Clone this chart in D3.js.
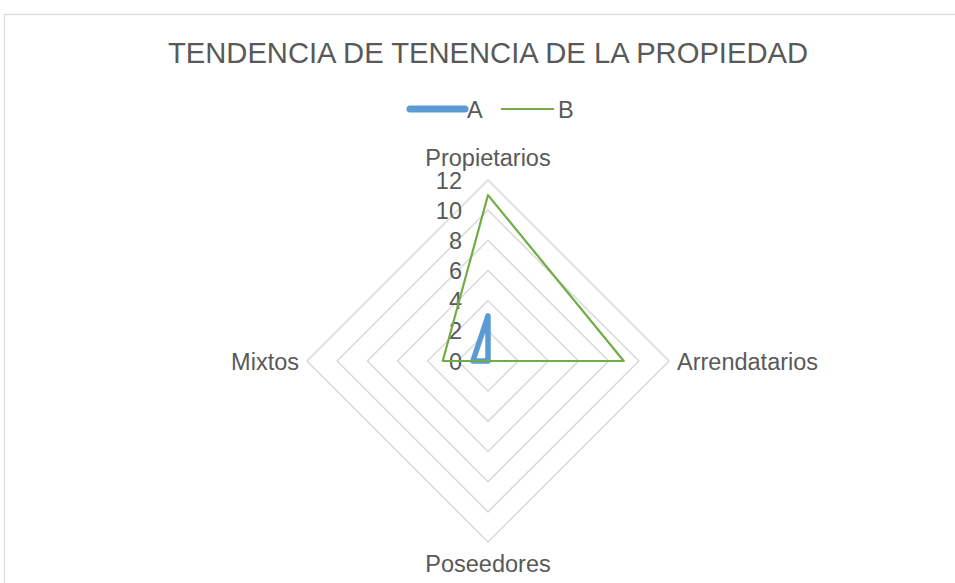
<!DOCTYPE html>
<html>
<head>
<meta charset="utf-8">
<script src="https://cdn.jsdelivr.net/npm/d3@7"></script>
<style>
  body { margin: 0; background: #fff; }
  text { font-family: "Liberation Sans", Arial, sans-serif; fill: #595959; }
</style>
</head>
<body>
<div id="chart"></div>
<script>
// chart data
const categories = ["Propietarios", "Arrendatarios", "Poseedores", "Mixtos"];
const seriesNames = ["A", "B"];
const valuesA = [3, 0, 0, 1];
const valuesB = [11, 9, 0, 3];
const ticks = [0, 2, 4, 6, 8, 10, 12];

const width = 955,
    height = 583,
    cx = 488,
    cy = 361,
    radius = 181;

const colors = { A: "#5B9BD5", B: "#70AD47" };
const strokeW = { A: 5.5, B: 2.2 };

const svg = d3.select("#chart").append("svg")
    .attr("width", width)
    .attr("height", height);

// chart border
svg.append("rect")
    .attr("x", 4.5).attr("y", 14.5)
    .attr("width", 1000).attr("height", 1000)
    .attr("fill", "none")
    .attr("stroke", "#D9D9D9")
    .attr("stroke-width", 1.2);

// title
svg.append("text")
    .attr("x", cx).attr("y", 63)
    .attr("text-anchor", "middle")
    .style("font-size", "29.2px")
    .text("TENDENCIA DE TENENCIA DE LA PROPIEDAD");

const r = d3.scaleLinear().domain([0, 12]).range([0, radius]);
const angle = d3.scalePoint().domain(categories).range([0, 2 * Math.PI * 3 / 4]);

function pt(cat, v) {
    const a = angle(cat);
    return [cx + r(v) * Math.sin(a), cy - r(v) * Math.cos(a)];
}

// grid rings
const g = svg.append("g");
g.selectAll(".ring")
    .data(ticks.filter(t => t > 0))
    .join("polygon")
    .attr("points", t => categories.map(c => pt(c, t).join(",")).join(" "))
    .attr("fill", "none")
    .attr("stroke", "#D9D9D9")
    .attr("stroke-width", 1.5);

// tick labels
g.selectAll(".tick")
    .data(ticks)
    .join("text")
    .attr("x", cx - 26)
    .attr("y", t => cy - r(t) + 8.5)
    .attr("text-anchor", "end")
    .style("font-size", "23.5px")
    .text(t => t);

// category labels
const labelPos = {
    Propietarios: { x: cx, y: 166, anchor: "middle" },
    Arrendatarios: { x: 677, y: 370, anchor: "start" },
    Poseedores: { x: cx, y: 572, anchor: "middle" },
    Mixtos: { x: 299, y: 370, anchor: "end" }
};
g.selectAll(".cat")
    .data(categories)
    .join("text")
    .attr("x", d => labelPos[d].x)
    .attr("y", d => labelPos[d].y)
    .attr("text-anchor", d => labelPos[d].anchor)
    .style("font-size", "23.5px")
    .text(d => d);

// series
const series = [
    { name: "A", values: valuesA },
    { name: "B", values: valuesB }
];
const line = d3.line().curve(d3.curveLinearClosed);

g.selectAll(".series")
    .data(series)
    .join("path")
    .attr("d", s => line(categories.map((c, i) => pt(c, s.values[i]))))
    .attr("fill", "none")
    .attr("stroke", s => colors[s.name])
    .attr("stroke-width", s => strokeW[s.name])
    .attr("stroke-linejoin", "round")
    .attr("stroke-linecap", "round");

// legend
const legendItems = [
    { name: "A", x1: 410, x2: 465, tx: 467 },
    { name: "B", x1: 501, x2: 554, tx: 558 }
];
const lg = svg.append("g");
lg.selectAll("line")
    .data(legendItems)
    .join("line")
    .attr("x1", d => d.x1).attr("x2", d => d.x2)
    .attr("y1", 109).attr("y2", 109)
    .attr("stroke", d => colors[d.name])
    .attr("stroke-width", d => strokeW[d.name] + (d.name === "A" ? 1.5 : 0))
    .attr("stroke-linecap", d => d.name === "A" ? "round" : "butt");
lg.selectAll("text")
    .data(legendItems)
    .join("text")
    .attr("x", d => d.tx)
    .attr("y", 117.5)
    .style("font-size", "23.5px")
    .text(d => d.name);
</script>
</body>
</html>
